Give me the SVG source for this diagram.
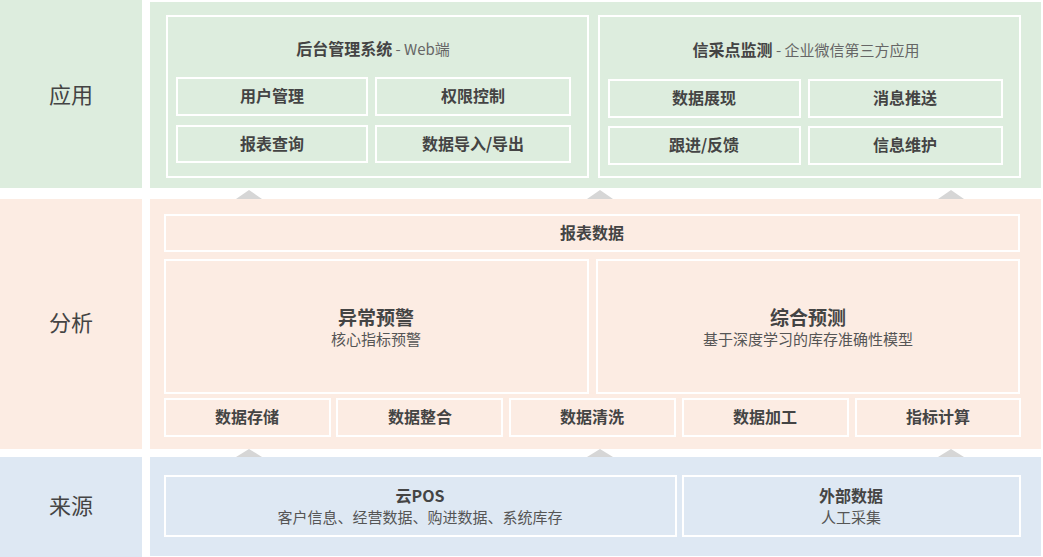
<svg xmlns="http://www.w3.org/2000/svg" width="1043" height="557" viewBox="0 0 1043 557">
<style>
text{font-family:"Noto Sans CJK SC","Noto Sans",sans-serif;text-anchor:middle;dominant-baseline:central;fill:#444}
.g{fill:#DDEDDE}.p{fill:#FCECE3}.b{fill:#DEE8F3}
.box{fill:none;stroke:#fff;stroke-width:2}
.lab{font-size:22px}
.t{font-size:16px;font-weight:bold}
.big{font-size:19px;font-weight:bold}
.s{font-size:15px;fill:#555}
.tri{fill:#D6D6D6}
</style>
<rect width="1043" height="557" fill="#fff"/>
<g id="layer-app">
<rect class="g" x="0" y="0" width="142" height="188"/>
<rect class="g" x="150" y="2" width="891" height="186"/>
<text class="lab" x="71" y="93">应用</text>
</g>
<g id="layer-analysis">
<rect class="p" x="0" y="199" width="142" height="250"/>
<rect class="p" x="150" y="199" width="891" height="250"/>
<text class="lab" x="71" y="321">分析</text>
</g>
<g id="layer-source">
<rect class="b" x="0" y="457" width="142" height="100"/>
<rect class="b" x="150" y="457" width="891" height="99"/>
<text class="lab" x="71" y="504">来源</text>
</g>
<g id="backend">
<rect class="box" x="167" y="16" width="421" height="161"/>
<text x="373" y="48"><tspan style="font-size:16px;font-weight:bold">后台管理系统</tspan><tspan style="font-size:15px;fill:#666"> - Web端</tspan></text>
</g>
<g id="user-mgmt"><rect class="box" x="177" y="78" width="190" height="37"/><text class="t" x="272" y="95">用户管理</text></g>
<g id="perm"><rect class="box" x="376" y="78" width="194" height="37"/><text class="t" x="473" y="95">权限控制</text></g>
<g id="report-query"><rect class="box" x="177" y="126" width="190" height="36"/><text class="t" x="272" y="142.5">报表查询</text></g>
<g id="import-export"><rect class="box" x="376" y="126" width="194" height="36"/><text class="t" x="473" y="142.5">数据导入/导出</text></g>
<g id="monitor">
<rect class="box" x="599" y="16" width="421" height="161"/>
<text x="806" y="49"><tspan style="font-size:16px;font-weight:bold">信采点监测</tspan><tspan style="font-size:15px;fill:#666"> - 企业微信第三方应用</tspan></text>
</g>
<g id="data-show"><rect class="box" x="609" y="80" width="191" height="37"/><text class="t" x="704" y="96.5">数据展现</text></g>
<g id="msg-push"><rect class="box" x="809" y="80" width="193" height="37"/><text class="t" x="905" y="96.5">消息推送</text></g>
<g id="follow"><rect class="box" x="609" y="127" width="191" height="37"/><text class="t" x="704" y="143.5">跟进/反馈</text></g>
<g id="info-maint"><rect class="box" x="809" y="127" width="193" height="37"/><text class="t" x="905" y="143.5">信息维护</text></g>
<g id="report-data"><rect class="box" x="165" y="215" width="854" height="36"/><text class="t" x="592" y="231.5">报表数据</text></g>
<g id="anomaly"><rect class="box" x="165" y="260" width="423" height="133"/><text class="big" x="376" y="316">异常预警</text><text class="s" x="376" y="338">核心指标预警</text></g>
<g id="forecast"><rect class="box" x="597" y="260" width="422" height="133"/><text class="big" x="808" y="316">综合预测</text><text class="s" x="808" y="338">基于深度学习的库存准确性模型</text></g>
<g id="storage"><rect class="box" x="165" y="399" width="165" height="37"/><text class="t" x="247" y="415.5">数据存储</text></g>
<g id="integrate"><rect class="box" x="337" y="399" width="165" height="37"/><text class="t" x="420" y="415.5">数据整合</text></g>
<g id="clean"><rect class="box" x="510" y="399" width="165" height="37"/><text class="t" x="592" y="415.5">数据清洗</text></g>
<g id="process"><rect class="box" x="683" y="399" width="165" height="37"/><text class="t" x="765" y="415.5">数据加工</text></g>
<g id="indicator"><rect class="box" x="856" y="399" width="164" height="37"/><text class="t" x="938" y="415.5">指标计算</text></g>
<g id="cloud-pos"><rect class="box" x="165" y="476" width="511" height="60"/><text class="t" x="420" y="495">云POS</text><text class="s" x="420" y="516">客户信息、经营数据、购进数据、系统库存</text></g>
<g id="external"><rect class="box" x="683" y="476" width="337" height="60"/><text class="t" x="851" y="495">外部数据</text><text class="s" x="851" y="516">人工采集</text></g>
<g id="connectors">
<polygon class="tri" points="236,199 249,190 262,199"/>
<polygon class="tri" points="587,199 600,190 613,199"/>
<polygon class="tri" points="938,199 951,190 964,199"/>
<polygon class="tri" points="236,457 249,449 262,457"/>
<polygon class="tri" points="587,457 600,449 613,457"/>
<polygon class="tri" points="938,457 951,449 964,457"/>
</g>
</svg>
